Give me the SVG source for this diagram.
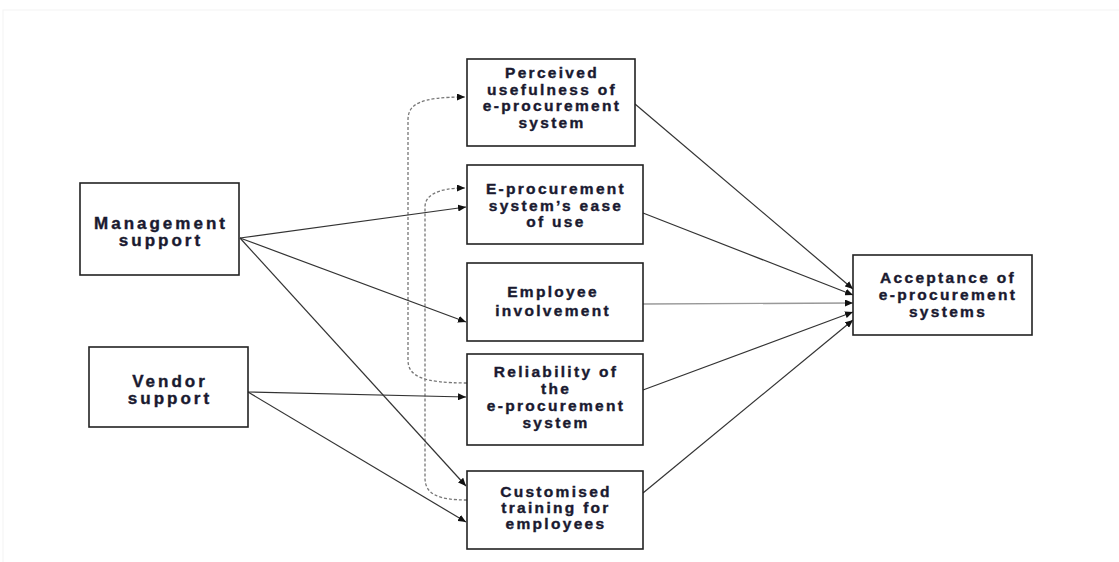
<svg xmlns="http://www.w3.org/2000/svg" width="1119" height="562" viewBox="0 0 1119 562">
<style>
.box{fill:#fff;stroke:#222;stroke-width:1.6}
.t{font-family:"Liberation Sans",Arial,sans-serif;font-weight:bold;font-size:15.5px;letter-spacing:2.3px;fill:#1a1a30;stroke:#1a1a30;stroke-width:0.4;text-anchor:middle}
.tl{font-size:17px;letter-spacing:3px}
.ln{fill:none;stroke:#333;stroke-width:1.2}
.lg{fill:none;stroke:#999;stroke-width:1.4}
.ds{fill:none;stroke:#777;stroke-width:1.3;stroke-dasharray:3,2}
</style>
<defs>
<marker id="ah" markerUnits="userSpaceOnUse" markerWidth="9" markerHeight="7" refX="8" refY="3.5" orient="auto">
<path d="M0,0 L8,3.5 L0,7 z" fill="#111"/>
</marker>
</defs>
<rect width="1119" height="562" fill="#fff"/>
<rect x="3" y="10" width="1130" height="560" fill="none" stroke="#f4f4f4" stroke-width="1"/>
<g id="connectors">
<path class="ds" d="M467,383 C422,383 408,376 408,360 L408,120 C408,104 420,97 465,97" marker-end="url(#ah)"/>
<path class="ds" d="M467,500 C438,500 425,494 425,478 L425,207 C425,196 436,188 465,188" marker-end="url(#ah)"/>
<path class="ln" d="M240,238 L466,207" marker-end="url(#ah)"/>
<path class="ln" d="M240,238 L466,322" marker-end="url(#ah)"/>
<path class="ln" d="M240,238 L466,486" marker-end="url(#ah)"/>
<path class="ln" d="M248,392 L466,397" marker-end="url(#ah)"/>
<path class="ln" d="M248,392 L466,522" marker-end="url(#ah)"/>
<path class="ln" d="M635,104 L853,289" marker-end="url(#ah)"/>
<path class="ln" d="M643,213 L853,295" marker-end="url(#ah)"/>
<path class="lg" d="M643,304 L853,303" marker-end="url(#ah)"/>
<path class="ln" d="M643,390 L853,312" marker-end="url(#ah)"/>
<path class="ln" d="M643,493 L853,320" marker-end="url(#ah)"/>
</g>
<g id="management">
<rect class="box" x="80" y="183" width="159" height="92"/>
<text class="t tl" x="161" y="229">Management</text>
<text class="t tl" x="161" y="246">support</text>
</g>
<g id="vendor">
<rect class="box" x="89" y="347" width="159" height="80"/>
<text class="t tl" x="170" y="387">Vendor</text>
<text class="t tl" x="170" y="404">support</text>
</g>
<g id="usefulness">
<rect class="box" x="467" y="59" width="168" height="87"/>
<text class="t" x="552" y="78">Perceived</text>
<text class="t" x="552" y="95">usefulness of</text>
<text class="t" x="552" y="111">e-procurement</text>
<text class="t" x="552" y="128">system</text>
</g>
<g id="ease">
<rect class="box" x="467" y="165" width="176" height="79"/>
<text class="t" x="556" y="194">E-procurement</text>
<text class="t" x="556" y="211">system’s ease</text>
<text class="t" x="556" y="227">of use</text>
</g>
<g id="involvement">
<rect class="box" x="467" y="263" width="176" height="78"/>
<text class="t" x="553" y="297">Employee</text>
<text class="t" x="553" y="316">involvement</text>
</g>
<g id="reliability">
<rect class="box" x="467" y="354" width="176" height="91"/>
<text class="t" x="556" y="377">Reliability of</text>
<text class="t" x="556" y="394">the</text>
<text class="t" x="556" y="411">e-procurement</text>
<text class="t" x="556" y="428">system</text>
</g>
<g id="training">
<rect class="box" x="467" y="471" width="176" height="78"/>
<text class="t" x="556" y="497">Customised</text>
<text class="t" x="556" y="513">training for</text>
<text class="t" x="556" y="529">employees</text>
</g>
<g id="acceptance">
<rect class="box" x="853" y="255" width="179" height="80"/>
<text class="t" x="948" y="283">Acceptance of</text>
<text class="t" x="948" y="300">e-procurement</text>
<text class="t" x="948" y="317">systems</text>
</g>
</svg>
